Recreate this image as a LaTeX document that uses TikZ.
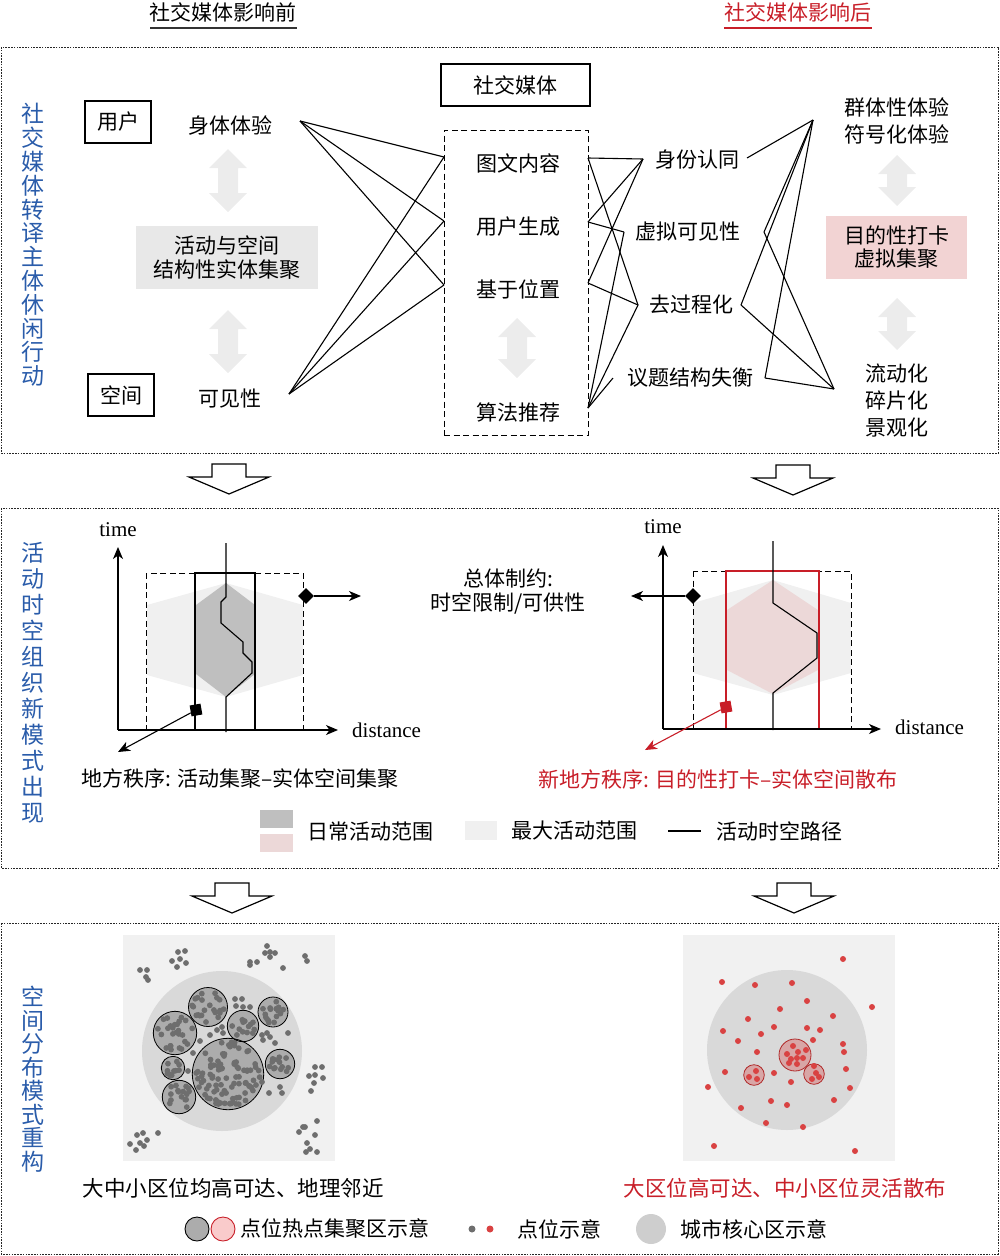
\documentclass[tikz,border=0pt]{standalone}
\usepackage{fontspec}
\setmainfont{Liberation Serif}
\newfontfamily\cjk{Noto Sans CJK SC}
\usetikzlibrary{arrows.meta,shapes.geometric}
\definecolor{myblue}{RGB}{42,92,170}
\definecolor{myred}{RGB}{200,30,40}
\definecolor{arrgray}{RGB}{236,236,236}
\definecolor{boxgray}{RGB}{232,232,232}
\definecolor{pinkbox}{RGB}{242,211,211}
\definecolor{hexlight}{RGB}{240,240,240}
\definecolor{hexdark}{RGB}{191,191,191}
\definecolor{hexpink}{RGB}{236,216,216}
\definecolor{sqbg}{RGB}{241,241,241}
\definecolor{core}{RGB}{217,217,217}
\definecolor{hotgray}{RGB}{172,172,172}
\definecolor{dotgray}{RGB}{110,110,110}
\definecolor{dotred}{RGB}{217,66,66}
\definecolor{hotpink}{RGB}{216,166,166}
\definecolor{hotred}{RGB}{176,40,40}
\newcommand{\dblarr}[3]{\fill[arrgray] (#1,#2) -- (#1+19,#2+19) -- (#1+10,#2+19) -- (#1+10,#3-19) -- (#1+19,#3-19) -- (#1,#3) -- (#1-19,#3-19) -- (#1-10,#3-19) -- (#1-10,#2+19) -- (#1-19,#2+19) -- cycle;}
\newcommand{\blkarr}[2]{\draw[fill=white,line width=1.2pt,line join=miter] (#1-17,#2) -- (#1+17,#2) -- (#1+17,#2+13) -- (#1+40,#2+13) -- (#1,#2+30) -- (#1-40,#2+13) -- (#1-17,#2+13) -- cycle;}
\begin{document}
\begin{tikzpicture}[x=1pt,y=-1pt,
  panel/.style={draw=black!85,line width=0.9pt,dash pattern=on 1.6pt off 1.2pt},
  conn/.style={line width=1.1pt},
  txt/.style={font=\cjk\fontsize{21}{25}\selectfont,inner sep=0pt,align=center},
  vtxt/.style={font=\cjk\fontsize{23}{#1}\selectfont,text=myblue,inner sep=0pt,align=center},
  framebox/.style={draw,line width=1.1pt,inner sep=0pt},
  dbox/.style={draw,line width=1pt,dash pattern=on 6pt off 3.5pt},
  ax/.style={line width=1.2pt,-{Stealth[length=12pt,width=10pt,inset=3.5pt]}},
  latin/.style={font=\fontsize{21}{25}\selectfont,inner sep=0pt},
  gdot/.style={fill=dotgray},
  rdot/.style={fill=dotred}
]
\useasboundingbox (0,0) rectangle (1000,1256);

% ---------- headings ----------
\node[txt] (h1) at (223,12) {社交媒体影响前};
\coordinate (h1a) at (150,28); \coordinate (h1b) at (297,28);
\draw[line width=1.5pt,black!80] (h1a) -- (h1b);
\node[txt,text=myred] (h2) at (798,12) {社交媒体影响后};
\coordinate (h2a) at (724,28); \coordinate (h2b) at (872,28);
\draw[line width=1.5pt,myred] (h2a) -- (h2b);

% ---------- panel 1 ----------
\draw[panel] (1,47) rectangle (998,453);
\node[vtxt=23.8] (v1) at (33,245) {社\\交\\媒\\体\\转\\译\\主\\体\\休\\闲\\行\\动};

\node[framebox,txt,minimum width=66pt,minimum height=42pt] (user) at (118,122) {用户};
\node[framebox,txt,minimum width=66pt,minimum height=42pt] (space) at (121,395) {空间};
\node[txt] (body) at (230,126) {身体体验};
\node[txt] (vis) at (230,399) {可见性};
\dblarr{228}{149}{212}
\dblarr{228}{310}{373}
\node[fill=boxgray,txt,font=\cjk\fontsize{21}{24}\selectfont,minimum width=182pt,minimum height=63pt] (agg) at (227,257.5) {活动与空间\\结构性实体集聚};

\node[framebox,txt,minimum width=149pt,minimum height=42pt] (sm) at (515.5,85) {社交媒体};
\node[dbox,minimum width=144pt,minimum height=305pt,inner sep=0pt] (smbox) at (516,282.5) {};
\node[txt] (tw) at (518,163) {图文内容};
\node[txt] (ugc) at (518,227) {用户生成};
\node[txt] (lbs) at (518,289) {基于位置};
\node[txt] (alg) at (518,412) {算法推荐};
\dblarr{517}{318}{378}

\node[txt] (id) at (697,160) {身份认同};
\node[txt] (vv) at (688,232) {虚拟可见性};
\node[txt] (dp) at (691,305) {去过程化};
\node[txt] (ist) at (690,378) {议题结构失衡};

\node[txt,font=\cjk\fontsize{21}{27}\selectfont] (grp) at (897,121) {群体性体验\\符号化体验};
\dblarr{897}{155}{206}
\node[fill=pinkbox,txt,font=\cjk\fontsize{21}{23}\selectfont,minimum width=141pt,minimum height=63pt] (pur) at (896.5,247.5) {目的性打卡\\虚拟集聚};
\dblarr{897}{298}{350}
\node[txt,font=\cjk\fontsize{21}{27}\selectfont] (flow) at (897,401) {流动化\\碎片化\\景观化};

% connection points
\coordinate (L1) at (300,121);
\coordinate (L2) at (289,394);
\coordinate (B1) at (444,157);
\coordinate (B2) at (444,221);
\coordinate (B3) at (444,285);
\coordinate (R1) at (588,158);
\coordinate (R2) at (588,222);
\coordinate (R3) at (588,283);
\coordinate (R4) at (588,408);
\coordinate (M1l) at (643,159);
\coordinate (M2l) at (624,232);
\coordinate (M3l) at (638,305);
\coordinate (M4l) at (613,378);
\coordinate (M1r) at (747,158);
\coordinate (M2r) at (764,232);
\coordinate (M3r) at (741,305);
\coordinate (M4r) at (765,378);
\coordinate (T) at (813,120);
\coordinate (U) at (834,389);

\foreach \a/\b in {L1/B1,L1/B2,L1/B3,L2/B1,L2/B2,L2/B3,
  R1/M1l,R1/M3l,R2/M1l,R2/M2l,M2l/R4,R3/M1l,R3/M3l,M3l/R4,M4l/R4,
  M1r/T,T/M2r,T/M3r,T/M4r,U/M2r,U/M3r,U/M4r}
  \draw[conn] (\a) -- (\b);

% ---------- arrows between panels ----------
\blkarr{229}{464}
\blkarr{793}{465}
\blkarr{232}{883}
\blkarr{794}{883}

% ---------- panel 2 ----------
\draw[panel] (1,508) rectangle (998,868);
\node[vtxt=26] (v2) at (33,683) {活\\动\\时\\空\\组\\织\\新\\模\\式\\出\\现};

% left graph
\fill[hexlight] (226,583) -- (303,605) -- (303,675) -- (226,697) -- (147,675) -- (147,605) -- cycle;
\fill[hexdark] (226,583) -- (255,605) -- (255,674) -- (226,697) -- (196,674) -- (196,605) -- cycle;
\draw[dbox] (146,573) rectangle (303,730);
\draw[line width=1.1pt] (195,573) rectangle (255,730);
\coordinate (o1) at (118,730);
\coordinate (t1) at (118,547);
\coordinate (d1) at (338,730);
\draw[ax] (o1) -- (t1);
\draw[ax] (o1) -- (d1);
\draw[conn] (226,543) -- (226,597) -- (221,602) -- (221,623) -- (243,642) -- (243,653) -- (252,662) -- (252,673) -- (226,697) -- (226,732);
\node[latin] (time1) at (118,530) {time};
\node[latin,anchor=west] (dist1) at (352,730) {distance};
\node[diamond,fill=black,inner sep=0pt,minimum size=16pt] (dm1) at (306,596) {};
\coordinate (dm1e) at (361,596);
\draw[ax,line width=1.1pt] (dm1) -- (dm1e);
\node[fill=black,inner sep=0pt,minimum size=11pt,rotate=10] (sq1) at (196,710) {};
\coordinate (sq1e) at (118,752);
\draw[ax,line width=1.1pt] (sq1) -- (sq1e);
\node[txt] (cap1) at (240,779) {地方秩序: 活动集聚–实体空间集聚};

\node[txt,font=\cjk\fontsize{21}{24}\selectfont] (con) at (508,592) {总体制约:\\时空限制/可供性};

% right graph
\fill[hexlight] (773,580) -- (851,603) -- (851,673) -- (773,695) -- (693,673) -- (693,603) -- cycle;
\fill[hexpink] (773,580) -- (818,610) -- (818,670) -- (773,694) -- (727,670) -- (727,610) -- cycle;
\draw[dbox] (693,571) rectangle (851,729);
\draw[line width=1.1pt,myred] (726,571) rectangle (819,729);
\coordinate (o2) at (663,729);
\coordinate (t2) at (663,545);
\coordinate (d2) at (881,729);
\draw[ax] (o2) -- (t2);
\draw[ax] (o2) -- (d2);
\draw[conn] (773,541) -- (773,603) -- (817,633) -- (817,658) -- (773,693) -- (773,730);
\node[latin] (time2) at (663,527) {time};
\node[latin,anchor=west] (dist2) at (895,727) {distance};
\node[diamond,fill=black,inner sep=0pt,minimum size=16pt] (dm2) at (693,596) {};
\coordinate (dm2e) at (631,596);
\draw[ax,line width=1.1pt] (dm2) -- (dm2e);
\node[fill=myred,inner sep=0pt,minimum size=11pt,rotate=10] (sq2) at (726,707) {};
\coordinate (sq2e) at (645,750);
\draw[ax,line width=1.1pt,myred] (sq2) -- (sq2e);
\node[txt,text=myred] (cap2) at (718,779) {新地方秩序: 目的性打卡–实体空间散布};

% legend 2
\node[fill=hexdark,minimum width=33pt,minimum height=18pt,inner sep=0pt] (lg1) at (276.5,819) {};
\node[fill=hexpink,minimum width=33pt,minimum height=18pt,inner sep=0pt] (lg2) at (276.5,843) {};
\node[txt,anchor=west] (lt1) at (307,831) {日常活动范围};
\node[fill=hexlight,minimum width=32pt,minimum height=19pt,inner sep=0pt] (lg3) at (481,830.5) {};
\node[txt,anchor=west] (lt2) at (511,831) {最大活动范围};
\coordinate (lg4a) at (668,831); \coordinate (lg4b) at (701,831);
\draw[conn] (lg4a) -- (lg4b);
\node[txt,anchor=west] (lt3) at (716,831) {活动时空路径};

% ---------- panel 3 ----------
\draw[panel] (1,923) rectangle (998,1254);
\node[vtxt=23.5] (v3) at (33,1079) {空\\间\\分\\布\\模\\式\\重\\构};

% left map
\fill[sqbg] (123,935) rectangle (335,1161);
\fill[core] (222,1051) circle (80);
\foreach \cx/\cy/\r in {208/1007/19.5,175/1033/21.7,243/1026/15.7,273/1012/15,173/1068/11.7,228/1074/35.7,280/1064/14.7,179/1097/16.7}
  \fill[hotgray] (\cx,\cy) circle (\r);
\pgfmathsetseed{12}
\foreach \cx/\cy/\r/\n in {208/1007/19.5/22,175/1033/21.7/26,243/1026/15.7/14,273/1012/15/16,173/1068/11.7/11,228/1074/35.7/90,280/1064/14.7/14,179/1097/16.7/16}{
  \foreach \k in {1,...,\n}{
    \pgfmathsetmacro\ang{360*rnd}
    \pgfmathsetmacro\rad{(\r-3.5)*sqrt(rnd)}
    \fill[gdot] (\cx,\cy) ++(\ang:\rad) circle (2.9);
  }
}
\foreach \cx/\cy/\r in {208/1007/19.5,175/1033/21.7,243/1026/15.7,273/1012/15,173/1068/11.7,228/1074/35.7,280/1064/14.7,179/1097/16.7}
  \draw[line width=0.8pt] (\cx,\cy) circle (\r);
\foreach \x/\y in {178/952,185/951,172/961,180/959,186/963,177/967,
  140/970,147/970,146/977,148/980,
  267/946,270/952,265/953,275/953,270/957,250/962,257/962,250/965,283/968,
  305/956,307/961,
  315/1067,322/1067,309/1076,315/1075,323/1078,314/1083,311/1091,
  317/1121,305/1127,299/1132,303/1127,315/1135,307/1143,310/1149,306/1152,317/1152,
  143/1133,137/1135,158/1133,147/1140,130/1144,140/1143,136/1150,144/1146,
  235/999,242/999,236/1006,243/1007,250/1007,222/1027,217/1030,210/1035,223/1033,200/1041,
  262/1035,267/1033,270/1037,263/1040,288/1033,275/1043,193/1053,188/1071,269/1093,280/1087,282/1093,256/1085,262/1082}
  \fill[gdot] (\x,\y) circle (2.9);

% right map
\fill[sqbg] (683,935) rectangle (895,1161);
\fill[core] (787,1050) circle (80);
\foreach \cx/\cy/\r in {795/1055/16,754/1075/10.3,814/1074/10.3}
  \draw[fill=hotpink,draw=hotred,line width=0.8pt] (\cx,\cy) circle (\r);
\foreach \x/\y in {843/959,722/982,755/985,792/983,872/1007,807/1001,780/1009,833/1016,748/1019,
  723/1031,774/1027,807/1028,820/1030,761/1034,738/1041,813/1040,843/1044,844/1052,757/1052,
  846/1069,725/1072,774/1073,791/1082,708/1087,850/1088,771/1101,834/1100,787/1105,741/1108,
  766/1123,803/1127,714/1146,855/1151,
  793/1046,798/1052,806/1050,787/1054,791/1059,797/1058,803/1058,789/1063,797/1064,
  756/1071,749/1077,757/1079,814/1066,816/1073,819/1077,812/1079}
  \fill[rdot] (\x,\y) circle (3);

\node[txt,font=\cjk\fontsize{21.5}{25}\selectfont] (cap3) at (233,1188) {大中小区位均高可达、地理邻近};
\node[txt,font=\cjk\fontsize{21.5}{25}\selectfont,text=myred] (cap4) at (785,1188) {大区位高可达、中小区位灵活散布};

% legend 3
\node[circle,fill=hotgray,draw=black,line width=0.9pt,minimum size=24pt,inner sep=0pt] (lc1) at (197,1229) {};
\node[circle,fill=pinkbox!80!red!60,draw=myred,line width=0.9pt,minimum size=24pt,inner sep=0pt] (lc2) at (223,1229) {};
\node[txt,anchor=west] (lt4) at (240,1229) {点位热点集聚区示意};
\node[circle,fill=dotgray,minimum size=7pt,inner sep=0pt] (ld1) at (472,1229) {};
\node[circle,fill=dotred,minimum size=7pt,inner sep=0pt] (ld2) at (490,1229) {};
\node[txt,anchor=west] (lt5) at (517,1229) {点位示意};
\node[circle,fill=core!95!black,minimum size=30pt,inner sep=0pt] (lc3) at (651,1229) {};
\node[txt,anchor=west] (lt6) at (680,1229) {城市核心区示意};
\end{tikzpicture}
\end{document}
